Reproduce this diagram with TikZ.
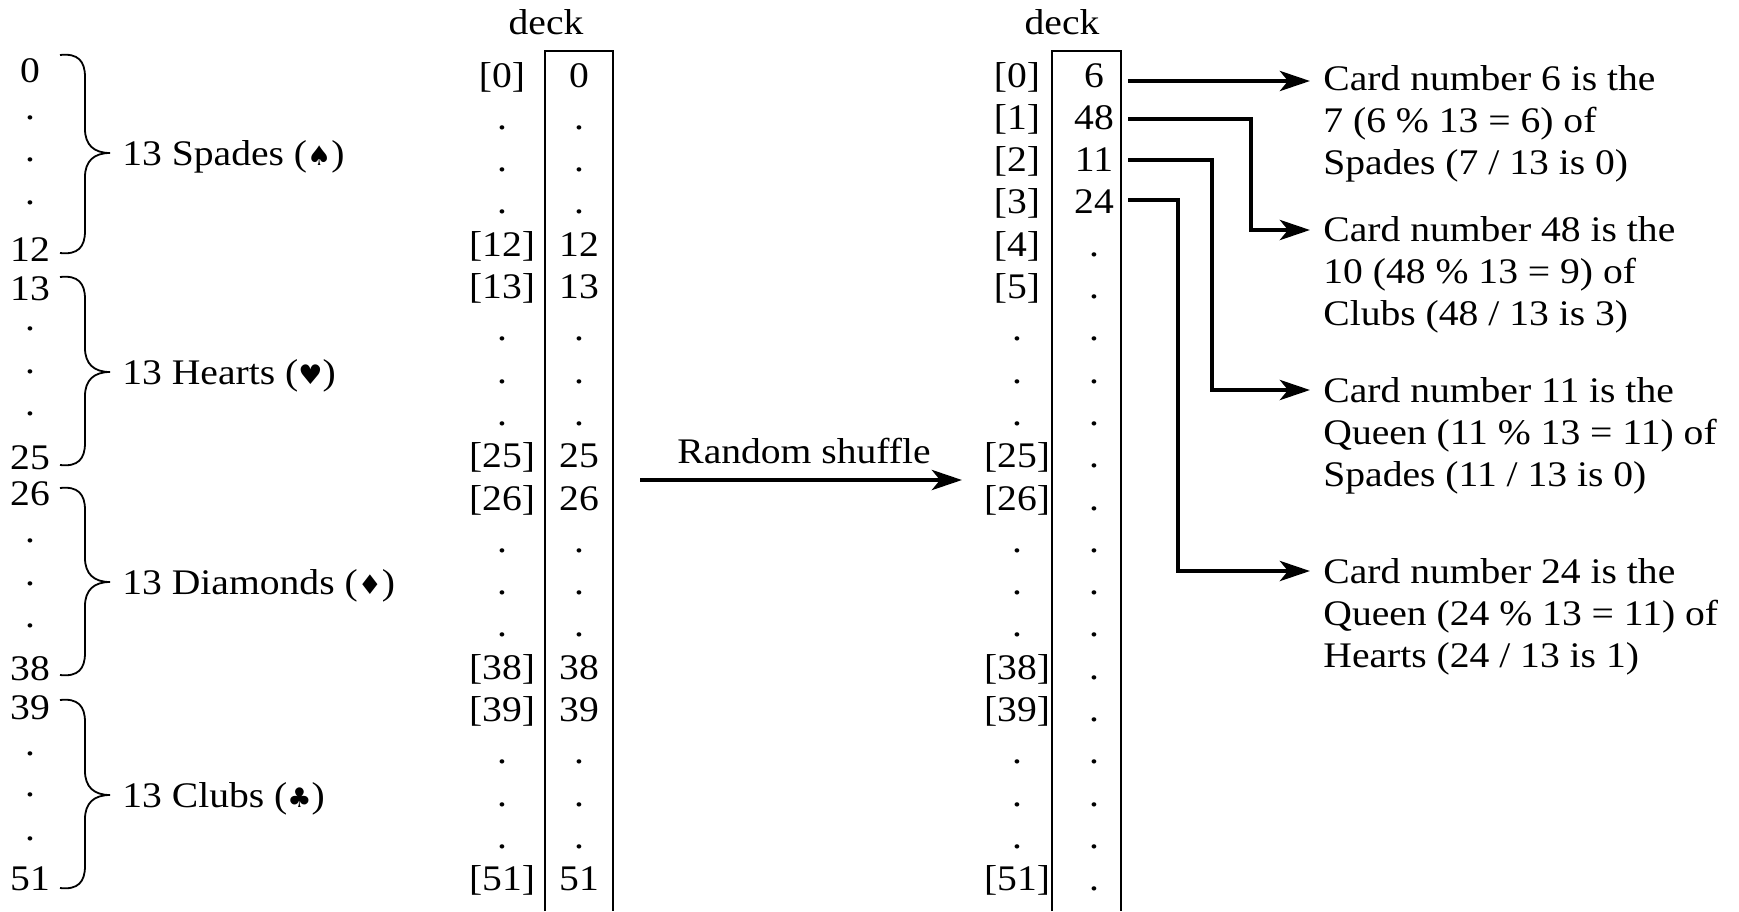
\documentclass[tikz,border=0pt]{standalone}
\usepackage{fontspec}
\setmainfont{Liberation Serif}[FakeStretch=1.1]
\newfontfamily\suitfont{DejaVu Sans}
\usetikzlibrary{arrows.meta}
\newcommand\suitbrace[3]{%
  \draw[bracestyle] (60,#1) .. controls (78,#1-2) and (85,#1+6) .. (85,#1+22)
    -- (85,#2-24) .. controls (85,#2-8) and (94,#2) .. (110,#2)
    .. controls (94,#2) and (85,#2+8) .. (85,#2+24)
    -- (85,#3-22) .. controls (85,#3-6) and (78,#3+2) .. (60,#3);}
\newcommand\suit[1]{{\suitfont\fontsize{13.5}{13.5}\selectfont #1}}
\begin{document}
\begin{tikzpicture}[x=0.5pt,y=-0.5pt,
  every node/.style={inner sep=0pt, font=\fontsize{18}{21}\selectfont},
  cell/.style={anchor=base},
  txt/.style={anchor=base west, align=left},
  boxline/.style={line width=1.1pt},
  bracestyle/.style={line width=0.9pt},
  arrowline/.style={line width=2.4pt, -{Stealth[length=15pt, width=10pt, inset=4pt]}}]
\useasboundingbox (0,0) rectangle (1739,911);

% ---------- left column with braces ----------
\foreach \t/\y [count=\k] in {0/70,12/249,13/288,25/457,26/493,38/668,39/707,51/878}
  \node[cell] (ln\k) at (30,\y+12) {\t};
\foreach \y [count=\k] in {116,158,201,327,370,412,539,582,624,752,793,837}
  \node[cell] (ld\k) at (30,\y+3) {.};

\suitbrace{55}{153}{253}
\suitbrace{277}{372}{465}
\suitbrace{488}{582}{675}
\suitbrace{700}{795}{888}

\node[anchor=base west] (spades) at (122,165) {13 Spades (\suit{♠})};
\node[anchor=base west] (hearts) at (122,384) {13 Hearts (\suit{♥})};
\node[anchor=base west] (diamonds) at (122,594) {13 Diamonds (\suit{♦})};
\node[anchor=base west] (clubs) at (122,807) {13 Clubs (\suit{♣})};

% ---------- middle deck ----------
\node[cell] (deckA) at (546,34) {deck};
\draw[boxline] (545,911) -- (545,51) -- (613,51) -- (613,911);
\foreach \i/\t in {0/{[0]},1/.,2/.,3/.,4/{[12]},5/{[13]},6/.,7/.,8/.,9/{[25]},10/{[26]},11/.,12/.,13/.,14/{[38]},15/{[39]},16/.,17/.,18/.,19/{[51]}}
  \node[cell] (ml\i) at (502,{87+42.3*\i}) {\t};
\foreach \i/\t in {0/0,1/.,2/.,3/.,4/12,5/13,6/.,7/.,8/.,9/25,10/26,11/.,12/.,13/.,14/38,15/39,16/.,17/.,18/.,19/51}
  \node[cell] (mv\i) at (579,{87+42.3*\i}) {\t};

% ---------- shuffle arrow ----------
\node[cell] (shuffle) at (804,463) {Random shuffle};
\coordinate (rsA) at (640,480);
\coordinate (rsB) at (962,480);
\draw[arrowline] (rsA) -- (rsB);

% ---------- right deck ----------
\node[cell] (deckB) at (1062,34) {deck};
\draw[boxline] (1052,911) -- (1052,51) -- (1121,51) -- (1121,911);
\foreach \i/\t in {0/{[0]},1/{[1]},2/{[2]},3/{[3]},4/{[4]},5/{[5]},6/.,7/.,8/.,9/{[25]},10/{[26]},11/.,12/.,13/.,14/{[38]},15/{[39]},16/.,17/.,18/.,19/{[51]}}
  \node[cell] (rl\i) at (1017,{87+42.3*\i}) {\t};
\foreach \i/\t in {0/6,1/48,2/11,3/24}
  \node[cell] (rv\i) at (1094,{87+42.3*\i}) {\t};
\foreach \i in {4,...,19}
  \node[cell] (rv\i) at (1094,{87+42.3*\i}) {.};

% ---------- explanations (base = last line) ----------
\node[txt] (e0) at (1323,90+84) {Card number 6 is the\\7 (6 \% 13 = 6) of\\Spades (7 / 13 is 0)};
\node[txt] (e1) at (1323,241+84) {Card number 48 is the\\10 (48 \% 13 = 9) of\\Clubs (48 / 13 is 3)};
\node[txt] (e2) at (1323,402+84) {Card number 11 is the\\Queen (11 \% 13 = 11) of\\Spades (11 / 13 is 0)};
\node[txt] (e3) at (1323,583+84) {Card number 24 is the\\Queen (24 \% 13 = 11) of\\Hearts (24 / 13 is 1)};

\coordinate (s0) at (1128,81);
\coordinate (s1) at (1128,119);
\coordinate (s2) at (1128,160);
\coordinate (s3) at (1128,200);
\coordinate (t0) at (1310,81);
\coordinate (t1) at (1310,230);
\coordinate (t2) at (1310,390);
\coordinate (t3) at (1310,571);
\coordinate (c1) at (1251,0);
\coordinate (c2) at (1212,0);
\coordinate (c3) at (1178,0);

\draw[arrowline] (s0) -- (t0);
\draw[arrowline] (s1) -| (c1 |- t1) -- (t1);
\draw[arrowline] (s2) -| (c2 |- t2) -- (t2);
\draw[arrowline] (s3) -| (c3 |- t3) -- (t3);
\end{tikzpicture}
\end{document}
